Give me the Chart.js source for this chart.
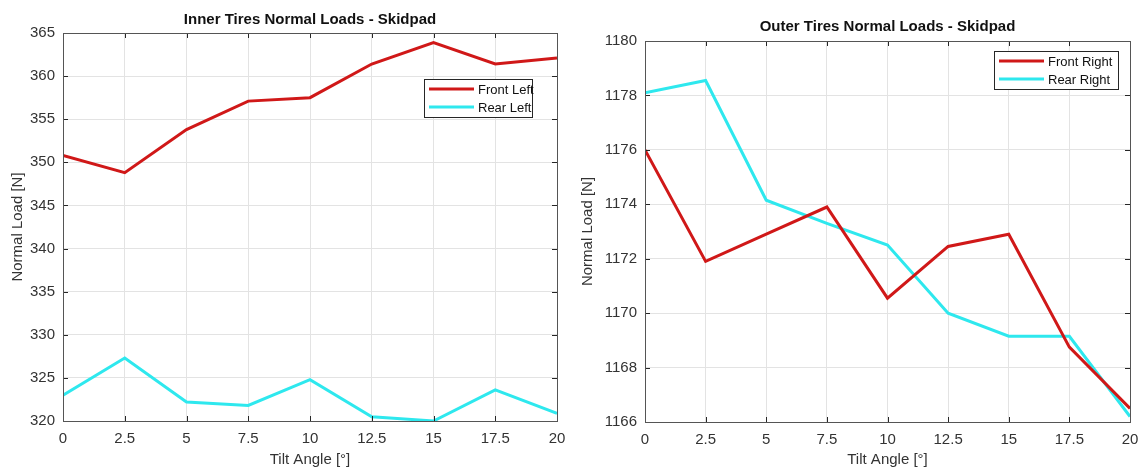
<!DOCTYPE html>
<html>
<head>
<meta charset="utf-8">
<title>Tire Normal Loads - Skidpad</title>
<script src="https://cdn.jsdelivr.net/npm/chart.js@4.4.7/dist/chart.umd.min.js"></script>
<style>
*{margin:0;padding:0;box-sizing:border-box}
body{background:#fff;width:1143px;height:469px;overflow:hidden;position:relative}
.pane{position:absolute;top:0;height:469px}
#paneL{left:0;width:570px}
#paneR{left:570px;width:573px}
</style>
</head>
<body>
<div class="pane" id="paneL"><canvas id="innerChart"></canvas></div>
<div class="pane" id="paneR"><canvas id="outerChart"></canvas></div>
<script>
// tilt angle sweep, degrees
const tiltAngles = [0, 2.5, 5, 7.5, 10, 12.5, 15, 17.5, 20];

// inner tires [N]
const frontLeft = [350.8, 348.8, 353.8, 357.1, 357.5, 361.4, 363.9, 361.4, 362.1];
const rearLeft  = [323.0, 327.3, 322.2, 321.8, 324.8, 320.5, 320.0, 323.6, 320.9];

// outer tires [N]
const frontRight = [1176.0, 1171.9, 1172.9, 1173.9, 1170.55, 1172.45, 1172.9, 1168.75, 1166.5];
const rearRight  = [1178.1, 1178.55, 1174.15, 1173.3, 1172.5, 1170.0, 1169.15, 1169.15, 1166.2];

const FONT = "'Liberation Sans', Arial, Helvetica, sans-serif";
const RED = '#d01818';
const CYAN = '#2ee8ee';
const AXIS = '#262626';

const pts = ys => tiltAngles.map((x, i) => ({ x, y: ys[i] }));
const plain = v => String(v);

// MATLAB style frame: box, inward ticks, title, legend
const matlabFrame = {
  id: 'matlabFrame',
  afterDraw(chart, args, opts) {
    const ctx = chart.ctx;
    const a = chart.chartArea;
    const sx = chart.scales.x, sy = chart.scales.y;
    ctx.save();
    ctx.strokeStyle = AXIS;
    ctx.lineWidth = 1;
    ctx.beginPath();
    sx.ticks.forEach(t => {
      const px = Math.round(sx.getPixelForValue(t.value)) + 0.5;
      ctx.moveTo(px, a.bottom); ctx.lineTo(px, a.bottom - 5);
      ctx.moveTo(px, a.top); ctx.lineTo(px, a.top + 5);
    });
    sy.ticks.forEach(t => {
      const py = Math.round(sy.getPixelForValue(t.value)) + 0.5;
      ctx.moveTo(a.left, py); ctx.lineTo(a.left + 5, py);
      ctx.moveTo(a.right, py); ctx.lineTo(a.right - 5, py);
    });
    ctx.stroke();
    ctx.strokeStyle = '#555';
    ctx.strokeRect(Math.round(a.left) + 0.5, Math.round(a.top) + 0.5,
      Math.round(a.right - a.left), Math.round(a.bottom - a.top));

    // title
    ctx.fillStyle = '#111';
    ctx.font = 'bold 15px ' + FONT;
    ctx.textAlign = 'center';
    ctx.textBaseline = 'middle';
    ctx.fillText(opts.title, (a.left + a.right) / 2, opts.titleY);

    // legend
    const lg = opts.legend;
    ctx.fillStyle = '#fff';
    ctx.fillRect(lg.x, lg.y, lg.w, lg.h);
    ctx.strokeStyle = AXIS;
    ctx.strokeRect(lg.x + 0.5, lg.y + 0.5, lg.w, lg.h);
    ctx.font = '13px ' + FONT;
    ctx.textAlign = 'left';
    chart.data.datasets.forEach((ds, i) => {
      const ry = lg.y + 10 + i * 18;
      ctx.strokeStyle = ds.borderColor;
      ctx.lineWidth = 3;
      ctx.beginPath();
      ctx.moveTo(lg.x + 5, ry); ctx.lineTo(lg.x + 50, ry);
      ctx.stroke();
      ctx.fillStyle = '#111';
      ctx.fillText(ds.label, lg.x + 54, ry + 1);
    });
    ctx.restore();
  }
};

function makeChart(id, cfg) {
  return new Chart(document.getElementById(id), {
    type: 'line',
    data: {
      datasets: cfg.series.map(s => ({
        label: s.label,
        data: pts(s.values),
        borderColor: s.color,
        backgroundColor: s.color,
        borderWidth: 3,
        pointRadius: 0,
        tension: 0
      }))
    },
    options: {
      responsive: true,
      maintainAspectRatio: false,
      animation: false,
      layout: { padding: cfg.padding },
      plugins: {
        legend: { display: false },
        tooltip: { enabled: false },
        matlabFrame: { title: cfg.title, titleY: cfg.titleY, legend: cfg.legend }
      },
      scales: {
        x: {
          type: 'linear',
          min: 0, max: 20,
          afterFit: s => { s.height = cfg.xHeight; s.paddingLeft = 0; s.paddingRight = 0; },
          ticks: { stepSize: 2.5, padding: 9, color: '#333', callback: plain, font: { family: FONT, size: 15 } },
          grid: { color: '#e3e3e3', drawTicks: false },
          border: { display: false },
          title: { display: true, text: 'Tilt Angle [°]', color: '#333', padding: { top: 0, bottom: 0 }, font: { family: FONT, size: 15 } }
        },
        y: {
          min: cfg.yMin, max: cfg.yMax,
          afterFit: s => { s.width = cfg.yWidth; s.paddingTop = 0; s.paddingBottom = 0; },
          ticks: { stepSize: cfg.yStep, padding: 8, color: '#333', callback: plain, font: { family: FONT, size: 15 } },
          grid: { color: '#e3e3e3', drawTicks: false },
          border: { display: false },
          title: { display: true, text: 'Normal Load [N]', color: '#333', padding: { top: 9, bottom: 0 }, font: { family: FONT, size: 15 } }
        }
      }
    },
    plugins: [matlabFrame]
  });
}

makeChart('innerChart', {
  title: 'Inner Tires Normal Loads - Skidpad',
  titleY: 20,
  series: [
    { label: 'Front Left', values: frontLeft, color: RED },
    { label: 'Rear Left', values: rearLeft, color: CYAN }
  ],
  yMin: 320, yMax: 365, yStep: 5,
  padding: { top: 33, right: 13, bottom: 0, left: 0 },
  yWidth: 63, xHeight: 48,
  legend: { x: 424, y: 79, w: 108, h: 38 }
});

makeChart('outerChart', {
  title: 'Outer Tires Normal Loads - Skidpad',
  titleY: 27,
  series: [
    { label: 'Front Right', values: frontRight, color: RED },
    { label: 'Rear Right', values: rearRight, color: CYAN }
  ],
  yMin: 1166, yMax: 1180, yStep: 2,
  padding: { top: 41, right: 13, bottom: 0, left: 0 },
  yWidth: 75, xHeight: 47,
  legend: { x: 424, y: 51, w: 124, h: 38 }
});
</script>
</body>
</html>
